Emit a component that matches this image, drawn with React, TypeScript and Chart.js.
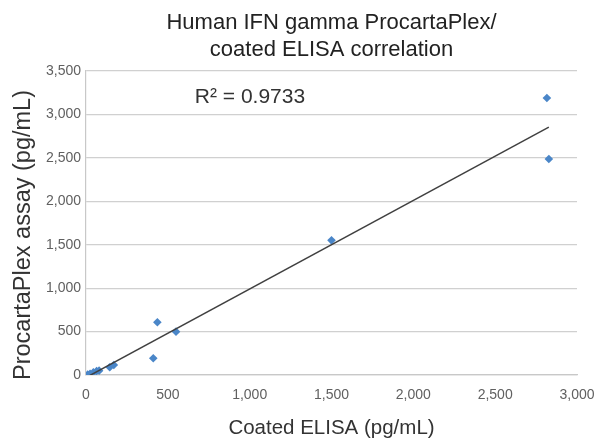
import React, { useEffect, useRef } from "react";
import { Chart, registerables } from "chart.js";

Chart.register(...registerables);

// ---- data ----
const TITLE_LINES = ["Human IFN gamma ProcartaPlex/", "coated ELISA correlation"];
const X_TITLE = "Coated ELISA (pg/mL)";
const Y_TITLE = "ProcartaPlex assay (pg/mL)";
const R2_LABEL = "R² = 0.9733";
const R2_AT_X = 665;
const R2_AT_Y = 3195;

const elisa = [10, 25, 45, 65, 80, 145, 170, 411, 436, 550, 1500, 2816, 2828];
const procarta = [5, 15, 30, 45, 50, 90, 115, 192, 607, 499, 1550, 3189, 2487];

const X_MIN = 0;
const X_MAX = 3000;
const Y_MIN = 0;
const Y_MAX = 3500;
const TICK_STEP = 500;

const FONT = "'Liberation Sans', Arial, Helvetica, sans-serif";

function linearFit(xs: number[], ys: number[]) {
  const n = xs.length;
  const mx = xs.reduce((a, b) => a + b, 0) / n;
  const my = ys.reduce((a, b) => a + b, 0) / n;
  let sxx = 0;
  let sxy = 0;
  for (let i = 0; i < n; i++) {
    sxx += (xs[i] - mx) * (xs[i] - mx);
    sxy += (xs[i] - mx) * (ys[i] - my);
  }
  const slope = sxy / sxx;
  return { slope, intercept: my - slope * mx };
}

export default function App() {
  const ref = useRef<HTMLCanvasElement | null>(null);

  useEffect(() => {
    if (!ref.current) return;
    const fit = linearFit(elisa, procarta);
    const xLo = Math.min(...elisa);
    const xHi = Math.max(...elisa);
    const trend = [
      { x: xLo, y: fit.intercept + fit.slope * xLo },
      { x: xHi, y: fit.intercept + fit.slope * xHi },
    ];
    const points = elisa.map((x, i) => ({ x, y: procarta[i] }));

    const textPlugin = {
      id: "textPlugin",
      afterDraw(chart: any) {
        const ctx = chart.ctx;
        const area = chart.chartArea;
        ctx.save();
        // chart title
        ctx.fillStyle = "#222222";
        ctx.font = `22px ${FONT}`;
        ctx.textAlign = "center";
        ctx.textBaseline = "middle";
        const cx = (area.left + area.right) / 2;
        TITLE_LINES.forEach((line, i) => {
          ctx.fillText(line, cx, 23 + i * 26.5);
        });
        // y axis title
        ctx.save();
        ctx.fillStyle = "#333333";
        ctx.font = `23.5px ${FONT}`;
        ctx.translate(24, (area.top + area.bottom) / 2 + 12);
        ctx.rotate(-Math.PI / 2);
        ctx.fillText(Y_TITLE, 0, 0);
        ctx.restore();
        // R² label
        const xs = chart.scales.x;
        const ys = chart.scales.y;
        ctx.font = `21px ${FONT}`;
        ctx.textAlign = "left";
        ctx.fillStyle = "#333333";
        ctx.fillText(R2_LABEL, xs.getPixelForValue(R2_AT_X), ys.getPixelForValue(R2_AT_Y));
        ctx.restore();
      },
    };

    const fmt = (v: any) => Number(v).toLocaleString("en-US");

    const chart = new Chart(ref.current, {
      type: "scatter",
      data: {
        datasets: [
          {
            type: "line",
            label: "trend",
            data: trend,
            borderColor: "#404040",
            borderWidth: 1.5,
            pointRadius: 0,
            fill: false,
          } as any,
          {
            label: "data",
            data: points,
            pointStyle: "rectRot",
            pointRadius: 4.3,
            pointBackgroundColor: "#4a86c8",
            pointBorderWidth: 0,
            backgroundColor: "#4a86c8",
            borderColor: "#4a86c8",
          },
        ],
      },
      options: {
        responsive: false,
        animation: false,
        devicePixelRatio: 1,
        layout: { padding: { left: 0, right: 18, top: 71, bottom: 0 } },
        plugins: {
          legend: { display: false },
          tooltip: { enabled: false },
          title: { display: false },
        },
        scales: {
          x: {
            type: "linear",
            min: X_MIN,
            max: X_MAX,
            afterFit: (s: any) => {
              s.height = 66;
              s.paddingLeft = 0;
              s.paddingRight = 0;
            },
            ticks: {
              stepSize: TICK_STEP,
              color: "#606060",
              font: { family: FONT, size: 14 },
              padding: 12,
              maxRotation: 0,
              callback: fmt,
            },
            grid: { display: false, drawTicks: false },
            border: { display: true, color: "#c8c8c8", width: 1.2 },
            title: {
              display: true,
              text: X_TITLE,
              color: "#333333",
              font: { family: FONT, size: 20.5 },
              padding: { top: 0, bottom: 0 },
            },
          },
          y: {
            type: "linear",
            min: Y_MIN,
            max: Y_MAX,
            afterFit: (s: any) => {
              s.width = 86;
              s.paddingTop = 0;
              s.paddingBottom = 0;
            },
            ticks: {
              stepSize: TICK_STEP,
              color: "#606060",
              font: { family: FONT, size: 14 },
              padding: 5,
              callback: fmt,
            },
            grid: { color: "#d0d0d0", lineWidth: 1.2, drawTicks: false },
            border: { display: true, color: "#c8c8c8", width: 1.2 },
            title: { display: false },
          },
        },
      },
      plugins: [textPlugin],
    });

    return () => chart.destroy();
  }, []);

  return (
    <div style={{ position: "fixed", left: 0, top: 0, width: 595, height: 441, background: "#fff" }}>
      <canvas ref={ref} width={595} height={441} />
    </div>
  );
}
